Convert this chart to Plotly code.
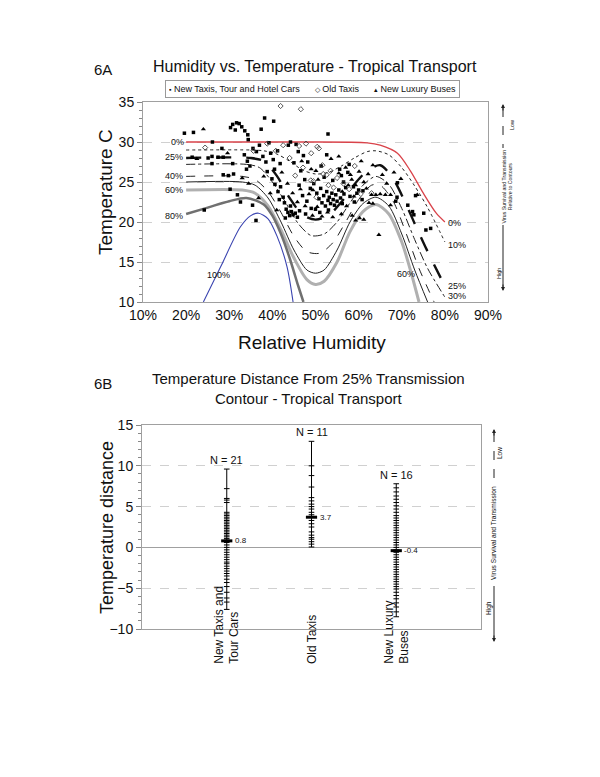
import plotly.graph_objects as go

W, H = 600, 777


def px(x):
    return x / W


def py(y):
    return 1 - y / H


# ---------------- 6A data ----------------
NEW_TAXI_X = [19.6, 21.7, 26.1, 28.3, 30.3, 30.8, 31.4, 32.3, 32.9, 33.6, 31.7, 34.3, 34.4, 37.4, 38.2, 40.3,
              21.4, 25.1, 26.0, 27.4, 28.6, 26.0, 30.8, 28.6, 29.8, 31.0, 30.2, 31.9, 32.6, 35.4, 24.2, 36.2,
              33.5, 34.2, 34.8, 34.0, 35.5, 36.3, 37.0,
              37.8, 38.5, 39.2, 39.6, 40.2, 38.8, 39.9, 40.5, 41.2, 41.8,
              40.6, 41.3, 41.9, 42.5, 42.8, 41.6, 43.2, 43.6, 44.0, 44.4, 44.8, 45.3, 45.8, 43.0, 44.2, 46.3,
              43.7, 44.2, 45.5, 46.0, 47.2, 45.0, 46.6, 48.2, 47.5, 48.8, 46.2, 47.0, 48.0, 49.0, 47.7,
              50.3, 50.8, 51.2, 51.5, 51.9, 52.3, 52.6, 52.9, 53.2, 53.5, 53.8, 54.1, 54.4, 54.7, 55.0, 55.4,
              55.8, 56.2, 56.6, 57.0, 50.0, 51.0, 53.0, 49.6, 52.0, 54.0, 56.0, 52.9, 52.6, 51.3,
              58.0, 59.0, 60.0, 56.5, 57.5, 58.8, 59.6, 61.0, 57.8, 55.6, 60.8,
              68.6, 68.9, 71.4, 72.5, 73.2, 75.1, 75.6, 76.7, 72.8, 69.0]
NEW_TAXI_Y = [31.1, 31.2, 30.0, 29.2, 31.8, 32.2, 31.5, 32.3, 31.9, 31.4, 32.4, 30.9, 30.3, 31.6, 33.0, 32.6,
              28.1, 28.0, 28.2, 28.1, 28.1, 27.3, 27.3, 25.9, 25.8, 26.0, 24.1, 23.4, 22.5, 22.1, 21.5, 20.2,
              28.4, 27.6, 27.0, 26.6, 29.2, 28.8, 29.6,
              28.2, 27.5, 29.9, 28.6, 27.8, 26.3, 25.4, 26.6, 28.9, 27.3,
              24.7, 23.8, 24.4, 23.1, 22.4, 22.8, 21.6, 21.2, 20.8, 21.3, 20.9, 21.1, 20.6, 20.5, 22.0, 21.4,
              29.6, 30.0, 29.7, 28.8, 28.3, 27.4, 26.4, 27.5, 25.3, 24.2, 24.6, 23.3, 22.6, 21.7, 21.0,
              23.6, 22.9, 24.2, 22.4, 23.3, 22.0, 23.8, 22.7, 23.1, 22.3, 23.6, 22.8, 22.1, 23.4, 22.6, 24.0,
              23.0, 22.3, 23.5, 24.3, 21.6, 21.2, 21.5, 24.8, 25.6, 25.2, 25.8, 31.0, 28.4, 27.0,
              23.2, 22.5, 24.0, 25.0, 26.2, 24.4, 23.6, 23.9, 27.2, 26.6, 22.8,
              22.6, 23.1, 22.1, 21.3, 23.3, 21.1, 19.0, 19.2, 20.9, 24.9]

OLD_TAXI_X = [41.9, 46.6, 24.4, 40.8, 42.5, 44.0, 46.2, 47.8, 49.0, 50.8, 50.4, 51.6, 52.6, 51.8, 49.5,
              48.9, 53.5, 54.2, 55.0, 56.5, 57.8, 59.1, 47.1, 45.3, 53.0, 60.5, 35.6, 38.8, 63.0, 50.2]
OLD_TAXI_Y = [34.5, 34.1, 29.3, 28.9, 29.6, 28.0, 29.5, 29.8, 28.6, 29.2, 29.4, 27.1, 25.9, 26.0, 25.1,
              25.2, 26.4, 24.3, 25.5, 24.8, 24.1, 27.0, 26.8, 25.8, 24.6, 23.5, 28.9, 29.8, 23.6, 23.1]

BUS_X = [24.0, 29.6, 22.5, 33.0, 34.5, 36.8, 38.0, 39.5, 41.0, 42.2, 43.5, 44.7, 45.8, 46.5, 47.6, 48.5,
         49.3, 50.4, 51.5, 52.8, 54.0, 55.4, 55.4, 58.1, 58.4, 59.3, 61.2, 57.2, 56.0, 58.5, 59.3, 60.2,
         61.2, 62.4, 63.3, 63.0, 64.0, 65.0, 66.2, 67.4, 67.4, 63.3, 64.7, 73.6, 57.0, 60.6, 53.6, 50.1,
         46.8, 49.4, 50.6, 49.0, 56.2, 57.6, 58.9, 60.1, 61.8, 62.2, 65.5, 66.5, 68.2, 69.8]
BUS_Y = [31.6, 28.6, 27.9, 25.5, 24.8, 23.0, 25.7, 23.6, 21.5, 26.2, 24.8, 23.6, 22.5, 24.1, 22.0, 23.5,
         20.8, 21.9, 20.7, 21.2, 20.6, 28.2, 26.1, 25.9, 25.3, 24.6, 25.0, 22.0, 21.0, 20.8, 20.2, 20.5,
         20.3, 22.4, 22.3, 23.4, 23.4, 23.5, 23.4, 23.4, 22.1, 27.1, 18.4, 23.4, 26.8, 27.6, 27.9, 26.4,
         27.6, 24.0, 25.3, 26.6, 23.8, 24.6, 23.2, 26.3, 24.2, 26.0, 25.9, 24.8, 26.2, 25.4]

# contour curves (relative humidity %, temperature C)
C0_X = [20, 45, 62, 65, 69, 72, 75, 78, 80]
C0_Y = [30, 30, 29.9, 29.6, 28.6, 26.4, 23.6, 21.1, 20]
C10_X = [20, 35, 38, 41, 44, 47, 50, 53, 56, 59, 62, 64, 67, 70, 73, 76, 80]
C10_Y = [29, 29, 28.9, 28.5, 27.6, 26.5, 26, 26.2, 27, 28, 28.8, 28.9, 28.4, 26.8, 24.5, 21.8, 17.5]
C25_X = [20, 35, 38, 41, 44, 47, 50, 53, 56, 59, 62, 65, 68, 71, 74, 77, 80]
C25_Y = [28, 28, 27.6, 25.8, 23, 20.9, 20.3, 20.8, 22.5, 24.7, 26.4, 27.1, 25.4, 22.2, 18.6, 15.2, 12]
C30_X = [20, 34, 37, 40, 43, 46, 49, 52, 55, 58, 61, 64, 67, 70, 73, 76, 80]
C30_Y = [27.2, 27.2, 26.8, 25, 22.5, 19.8, 18.3, 18.5, 20, 22.4, 24.6, 25.7, 24.7, 21.7, 17.8, 14.2, 10.6]
C40_X = [20, 33, 36, 39, 42, 45, 48, 51, 54, 57, 60, 63, 65, 68, 71, 74, 77.5]
C40_Y = [25.7, 25.7, 25.3, 23.8, 21.2, 18.2, 16.3, 16.1, 17.4, 20, 22.8, 24.6, 24.6, 22.6, 18.6, 14.2, 10]
C50_X = [20, 33, 36, 39, 42, 45, 48, 50, 52, 55, 58, 61, 64, 67, 70, 73, 76]
C50_Y = [25, 25, 24.6, 23, 20, 16.5, 14, 13.6, 14, 16.5, 20, 22.3, 23.1, 22, 18.5, 14, 10]
C60_X = [20, 33, 36, 39, 42, 45, 48, 50, 52, 55, 58, 61, 64, 67, 70, 72, 74]
C60_Y = [24, 24, 23.6, 22, 19, 15.5, 12.8, 12.2, 12.6, 15, 18.8, 21.3, 22.2, 21, 17.5, 14, 10]
C80_X = [20, 25, 30, 34, 38, 40, 42, 44, 46, 47.2]
C80_Y = [21, 21.8, 22.6, 23, 22.2, 20.8, 18.5, 15.5, 12, 10]
C100_X = [24, 28, 32.6, 35, 36.8, 39, 41.1, 43.4, 44.8]
C100_Y = [10, 14.4, 19.4, 20.8, 21.1, 20.4, 18.2, 14.4, 10]

LEFT_LABELS = ["0%", "25%", "40%", "60%", "80%", "100%"]
LEFT_LABEL_X = [17.9, 17.1, 17.1, 17.1, 17.1, 27.6]
LEFT_LABEL_Y = [30, 28.1, 25.7, 24, 20.8, 13.4]
RIGHT_LABELS = ["0%", "10%", "60%", "25%", "30%"]
RIGHT_LABEL_X = [82.2, 82.7, 70.9, 82.7, 82.7]
RIGHT_LABEL_Y = [19.9, 17.1, 13.5, 12.0, 10.7]

SERIES_NAMES = ["New Taxis, Tour and Hotel Cars", "Old Taxis", "New Luxury Buses"]

# ---------------- 6B data ----------------
CATEGORIES = ["New Taxis and<br>Tour Cars", "Old Taxis", "New Luxury<br>Buses"]
N_COUNTS = [21, 11, 16]
MEANS = [0.8, 3.7, -0.4]
DIST_NEW_TAXI = [9.6, 7.2, 6.0, 5.8, 5.5, 4.3, 4.1, 3.9, 3.7, 3.5, 3.3, 3.1, 2.9, 2.7, 2.5, 2.3, 2.1, 1.9,
                 1.7, 1.5, 1.3, 1.1, 0.9, 0.6, 0.3, 0.0, -0.3, -0.6, -0.9, -1.2, -1.5, -1.8, -2.0, -2.3,
                 -2.6, -2.9, -3.2, -3.5, -3.9, -4.3, -4.8, -5.5, -6.2, -6.7, -7.6]
DIST_OLD_TAXI = [13.0, 10.0, 8.8, 7.4, 6.1, 5.7, 5.3, 5.0, 4.7, 4.3, 4.0, 3.3, 2.9, 2.5, 1.9, 1.5, 1.2,
                 1.0, 0.7, 0.4, 0.05]
DIST_BUS = [7.8, 7.3, 6.8, 6.3, 5.9, 5.5, 5.1, 4.7, 4.3, 3.9, 3.6, 3.3, 3.0, 2.7, 2.4, 2.1, 1.8, 1.5,
            1.2, 0.9, 0.6, 0.3, 0.0, -0.3, -0.6, -0.9, -1.2, -1.5, -1.8, -2.1, -2.4, -2.7, -3.0, -3.3,
            -3.6, -3.9, -4.2, -4.5, -4.8, -5.1, -5.5, -5.9, -6.3, -6.8, -7.3, -7.9, -8.5]
DISTANCES = [DIST_NEW_TAXI, DIST_OLD_TAXI, DIST_BUS]

FONT = "Liberation Sans, Arial, sans-serif"
INK = "#111"

fig = go.Figure()

contours = [
    (C0_X, C0_Y, dict(color="#d9434a", width=1.3, dash="solid")),
    (C10_X, C10_Y, dict(color="#222", width=1, dash="dot")),
    (C25_X, C25_Y, dict(color="#111", width=2.4, dash="longdash")),
    (C30_X, C30_Y, dict(color="#222", width=1, dash="dashdot")),
    (C40_X, C40_Y, dict(color="#222", width=1, dash="dash")),
    (C50_X, C50_Y, dict(color="#222", width=1, dash="solid")),
    (C60_X, C60_Y, dict(color="#b0b0b0", width=3, dash="solid")),
    (C80_X, C80_Y, dict(color="#707070", width=2.5, dash="solid")),
    (C100_X, C100_Y, dict(color="#3a44b0", width=1.1, dash="solid")),
]
for cx, cy, ls in contours:
    fig.add_trace(go.Scatter(x=cx, y=cy, mode="lines", line=dict(shape="spline", smoothing=0.8, **ls),
                             showlegend=False, hoverinfo="skip", xaxis="x", yaxis="y"))

fig.add_trace(go.Scatter(x=NEW_TAXI_X, y=NEW_TAXI_Y, mode="markers", name=SERIES_NAMES[0], showlegend=False,
                         marker=dict(symbol="square", size=3.5, color="black"), xaxis="x", yaxis="y"))
fig.add_trace(go.Scatter(x=OLD_TAXI_X, y=OLD_TAXI_Y, mode="markers", name=SERIES_NAMES[1], showlegend=False,
                         marker=dict(symbol="diamond-open", size=4, color="#444", line=dict(width=0.9)),
                         xaxis="x", yaxis="y"))
fig.add_trace(go.Scatter(x=BUS_X, y=BUS_Y, mode="markers", name=SERIES_NAMES[2], showlegend=False,
                         marker=dict(symbol="triangle-up", size=4.5, color="black"), xaxis="x", yaxis="y"))


def ann(text, x, y, size, angle=0, xa="center", ya="middle", xref="paper", yref="paper", **kw):
    return dict(text=text, x=x, y=y, xref=xref, yref=yref, xanchor=xa, yanchor=ya, textangle=angle,
                showarrow=False, font=dict(size=size, color=INK), **kw)


annotations = []
for t, x, y in zip(LEFT_LABELS, LEFT_LABEL_X, LEFT_LABEL_Y):
    annotations.append(ann(t, x, y, 9, xref="x", yref="y"))
for t, x, y in zip(RIGHT_LABELS, RIGHT_LABEL_X, RIGHT_LABEL_Y):
    annotations.append(ann(t, x, y, 9, xref="x", yref="y"))

# legend box (compact, like the original)
NB = "\u00a0"
legend_text = (f"<span style='font-size:7px'>\u25aa</span>{NB}{SERIES_NAMES[0]}{NB * 6}"
               f"<span style='font-size:7px'>\u25c7</span>{NB}{SERIES_NAMES[1]}{NB * 6}"
               f"<span style='font-size:7px'>\u25b4</span>{NB}{SERIES_NAMES[2]}")
annotations.append(ann(legend_text, px(312), py(88.5), 9, bordercolor="#999", borderwidth=1, borderpad=3,
                       bgcolor="white", width=287, height=10))

# ---- 6B marks ----
for i, vals in enumerate(DISTANCES):
    xc = i + 1
    fig.add_trace(go.Scatter(x=[xc, xc], y=[min(vals), max(vals)], mode="lines",
                             line=dict(color="black", width=1), showlegend=False, hoverinfo="skip",
                             xaxis="x2", yaxis="y2"))
    fig.add_trace(go.Scatter(x=[xc] * len(vals), y=vals, mode="markers",
                             marker=dict(symbol="line-ew", size=4, line=dict(width=1, color="black")),
                             showlegend=False, xaxis="x2", yaxis="y2"))
    fig.add_trace(go.Scatter(x=[xc], y=[MEANS[i]], mode="markers",
                             marker=dict(symbol="line-ew", size=8, line=dict(width=3, color="black")),
                             showlegend=False, xaxis="x2", yaxis="y2"))
    annotations.append(ann(f"N = {N_COUNTS[i]}", xc, max(vals), 11, ya="bottom", xref="x2", yref="y2",
                           yshift=1))
    annotations.append(ann(f"{MEANS[i]}", xc, MEANS[i], 8, xa="left", xref="x2", yref="y2", xshift=6))
    annotations.append(ann(CATEGORIES[i], xc, py(666), 12, angle=-90, ya="bottom", xref="x2",
                           align="left"))

# titles and axis titles
annotations += [
    ann("6A", px(103), py(70), 15),
    ann("Humidity vs. Temperature - Tropical Transport", px(315), py(66), 16),
    ann("Temperature C", px(106), py(192), 19, angle=-90),
    ann("Relative Humidity", px(312), py(342), 19),
    ann("6B", px(103), py(383), 15),
    ann("Temperature Distance From 25% Transmission<br>Contour - Tropical Transport", px(308), py(388), 15),
    ann("Temperature distance", px(107), py(528), 18, angle=-90),
    # right side annotations 6A
    ann("Low", px(512), py(125), 5.5, angle=-90),
    ann("Virus Survival and Transmission<br>Relative to Contours", px(506.5), py(187), 5.2, angle=-90,
        bgcolor="white"),
    ann("High", px(499), py(274), 5.5, angle=-90),
    # right side annotations 6B
    ann("Low", px(500), py(453), 6.5, angle=-90),
    ann("Virus Survival and Transmission", px(493), py(533), 6.6, angle=-90),
    ann("High", px(489), py(608), 6.5, angle=-90),
]
for (xa_, ya_, d) in [(503, 104, 8), (503, 291, -8), (494, 429, 8), (494, 642, -8)]:
    annotations.append(dict(text="", x=px(xa_), y=py(ya_), xref="paper", yref="paper", ax=0, ay=d,
                            showarrow=True, arrowhead=2, arrowsize=0.8, arrowwidth=1, arrowcolor="#222"))

shapes = [
    dict(type="line", xref="paper", yref="paper", x0=px(503), x1=px(503), y0=py(108), y1=py(150),
         line=dict(color="#222", width=1, dash="dash")),
    dict(type="line", xref="paper", yref="paper", x0=px(503), x1=px(503), y0=py(224), y1=py(287),
         line=dict(color="#222", width=1)),
    dict(type="line", xref="paper", yref="paper", x0=px(494), x1=px(494), y0=py(433), y1=py(480),
         line=dict(color="#222", width=1, dash="dash")),
    dict(type="line", xref="paper", yref="paper", x0=px(494), x1=px(494), y0=py(586), y1=py(638),
         line=dict(color="#222", width=1)),
]

axis_common = dict(showline=True, mirror=True, linecolor="#a0a0a0", linewidth=1, automargin=False,
                   tickfont=dict(size=14, color=INK))

fig.update_layout(
    template="none",
    width=W, height=H, margin=dict(l=0, r=0, t=0, b=0, pad=0, autoexpand=False),
    paper_bgcolor="white", plot_bgcolor="white", showlegend=False,
    font=dict(family=FONT, color=INK),
    xaxis=dict(domain=[px(143), px(488)], range=[10, 90], dtick=10, ticksuffix="%", showgrid=False,
               zeroline=False, ticks="", anchor="y", **axis_common),
    yaxis=dict(domain=[py(302), py(102)], range=[10, 35], dtick=5, ticks="outside", ticklen=5,
               tickcolor="#888", showgrid=True, gridcolor="#d0d0d0", griddash="dash", zeroline=False,
               minor=dict(ticks="outside", dtick=1, ticklen=3, tickcolor="#888", showgrid=False),
               anchor="x", **axis_common),
    xaxis2=dict(domain=[px(142), px(481)], range=[0, 4], showticklabels=False, showgrid=False,
                zeroline=False, ticks="", anchor="y2", **axis_common),
    yaxis2=dict(domain=[py(629), py(425)], range=[-10, 15], dtick=5, ticks="outside", ticklen=5,
                tickcolor="#888", showgrid=True, gridcolor="#d0d0d0", griddash="dash",
                zeroline=True, zerolinecolor="#a0a0a0", zerolinewidth=1,
                minor=dict(ticks="outside", dtick=1, ticklen=3, tickcolor="#888", showgrid=False),
                anchor="x2", **axis_common),
    annotations=annotations,
    shapes=shapes,
)

fig.write_html("out.html", config={"displayModeBar": False},
               post_script="document.body.style.margin='0';")
